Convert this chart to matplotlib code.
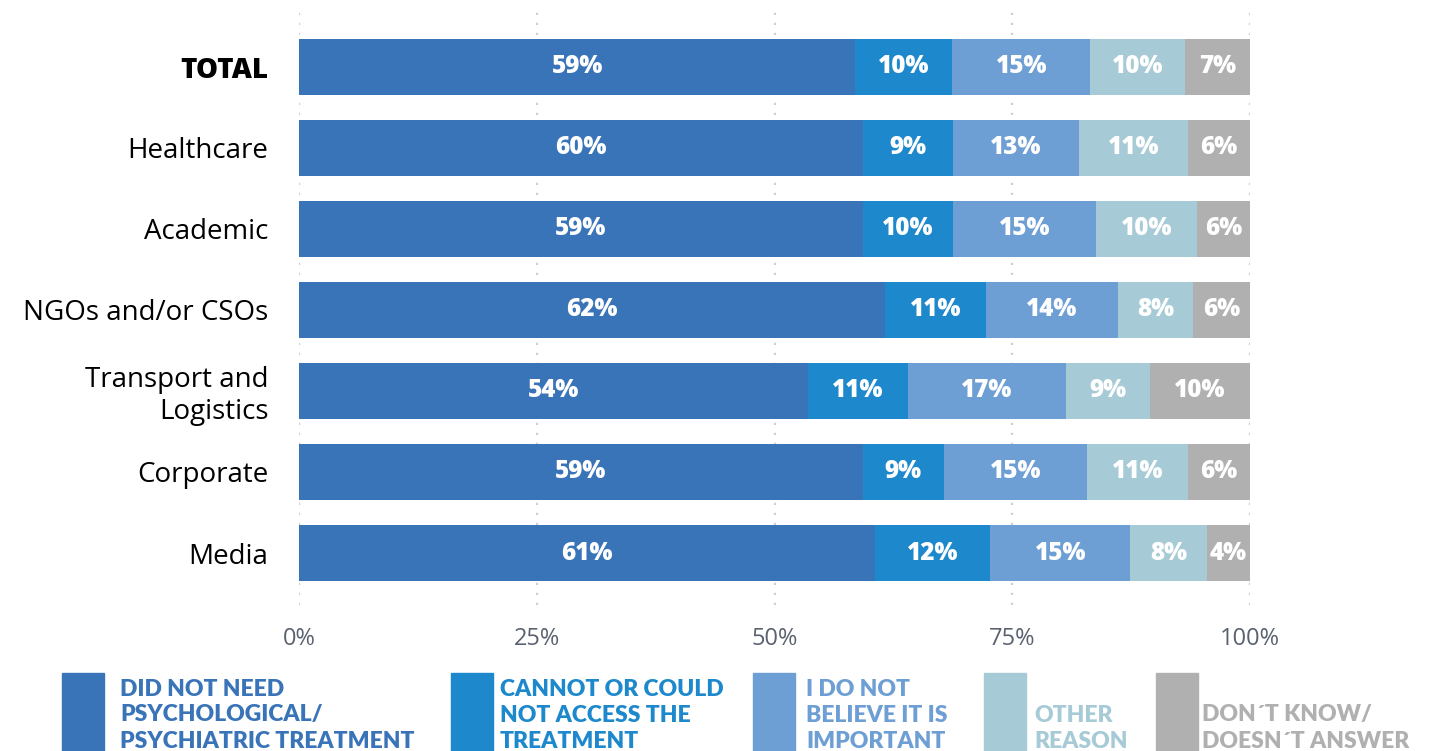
import numpy as np
import matplotlib.pyplot as plt
from matplotlib.patches import Rectangle

plt.rcParams['font.family'] = ['Open Sans', 'DejaVu Sans']

categories = ['TOTAL', 'Healthcare', 'Academic', 'NGOs and/or CSOs',
              'Transport and\nLogistics', 'Corporate', 'Media']

series_names = ['DID NOT NEED\nPSYCHOLOGICAL/\nPSYCHIATRIC TREATMENT',
                'CANNOT OR COULD\nNOT ACCESS THE\nTREATMENT',
                'I DO NOT\nBELIEVE IT IS\nIMPORTANT',
                'OTHER\nREASON',
                'DON\u00b4T KNOW/\nDOESN\u00b4T ANSWER']

# printed percentages (labels)
did_not_need = [59, 60, 59, 62, 54, 59, 61]
cannot_access = [10, 9, 10, 11, 11, 9, 12]
not_important = [15, 13, 15, 14, 17, 15, 15]
other_reason = [10, 11, 10, 8, 9, 11, 8]
dont_know = [7, 6, 6, 6, 10, 6, 4]

# segment widths as drawn in the picture (share of 100%)
did_not_need_w = [58.5, 59.3, 59.3, 61.6, 53.5, 59.3, 60.6]
cannot_access_w = [10.2, 9.5, 9.5, 10.6, 10.5, 8.5, 12.1]
not_important_w = [14.5, 13.2, 15.0, 13.9, 16.6, 15.1, 14.7]
other_reason_w = [10.0, 11.5, 10.6, 7.9, 8.9, 10.6, 8.1]
dont_know_w = [6.8, 6.5, 5.6, 6.0, 10.5, 6.5, 4.5]

colors = ['#3a74b8', '#1e88cc', '#6d9ed4', '#a6cad6', '#b0b0b0']

labels = [did_not_need, cannot_access, not_important, other_reason, dont_know]
widths = [did_not_need_w, cannot_access_w, not_important_w, other_reason_w, dont_know_w]

fig = plt.figure(figsize=(14.35, 7.51), dpi=100)
W, H = 1435, 751
ax = fig.add_axes([299 / W, 1 - 605 / H, (1250 - 299) / W, (605 - 10) / H])

y = np.arange(len(categories))
left = np.zeros(len(categories))
for w, lab, c in zip(widths, labels, colors):
    w = np.array(w)
    ax.barh(y, w, left=left, height=0.68, color=c, zorder=2)
    for yi, l, wi, v in zip(y, left, w, lab):
        ax.text(l + wi / 2, yi, f'{v}%', ha='center', va='center',
                color='white', fontsize=17.5, fontweight='heavy', zorder=3)
    left += w

ax.set_xlim(0, 100)
ax.set_ylim(6 + 52 / 81, -57 / 81)
ax.set_xticks([0, 25, 50, 75, 100])
ax.set_xticklabels(['0%', '25%', '50%', '75%', '100%'])
ax.set_yticks(y)
ax.set_yticklabels(categories, linespacing=1.15)
ax.tick_params(axis='y', length=0, pad=22, labelsize=20, labelcolor='black')
ax.tick_params(axis='x', length=0, pad=16, labelsize=17, labelcolor='#5a6270')
ax.get_yticklabels()[0].set_fontweight('heavy')

ax.grid(axis='x', color='#cfcfcf', linestyle=(0, (1, 3.5)), linewidth=1.6, zorder=0)
for s in ax.spines.values():
    s.set_visible(False)

# legend drawn by hand under the chart
patch_x = [62, 451, 753, 984, 1156]
text_x = [120, 500, 806, 1034, 1202]
for px, tx, name, c in zip(patch_x, text_x, series_names, colors):
    fig.add_artist(Rectangle((px / W, 0), 42 / W, (751 - 673) / H,
                             transform=fig.transFigure, color=c))
    lines = name.split('\n')
    for k, line in enumerate(reversed(lines)):
        yc = 741 - 26 * k
        fig.text(tx / W, 1 - yc / H, line, ha='left', va='center',
                 color=c, fontsize=16.5, fontweight='heavy', family=['Lato', 'DejaVu Sans'])

fig.savefig('out.png', dpi=100)
